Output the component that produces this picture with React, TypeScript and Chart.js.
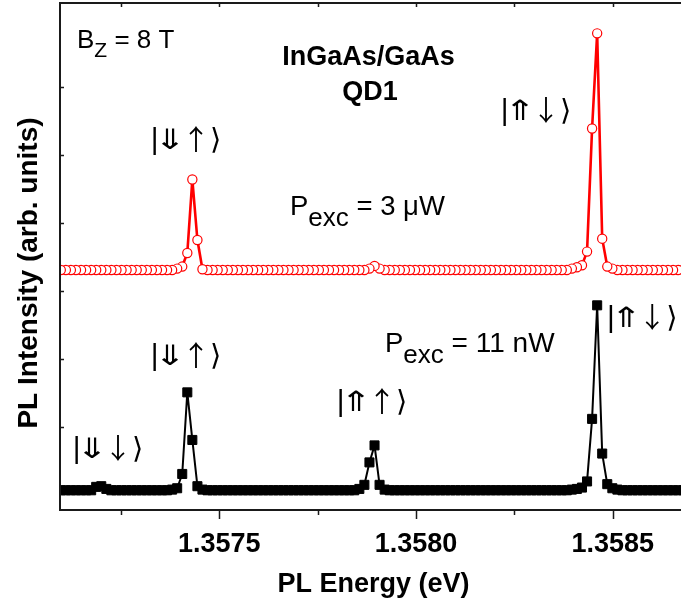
import { useEffect, useRef } from 'react';
import { Chart, registerables } from 'chart.js';

Chart.register(...registerables);

// Photon energy of each spectrometer channel (eV)
const energyEV = [
  1.3570842, 1.3570971, 1.35711, 1.3571228, 1.3571357, 1.3571486, 1.3571614, 1.3571743, 1.3571871, 1.3572,
  1.3572129, 1.3572257, 1.3572386, 1.3572515, 1.3572643, 1.3572772, 1.35729, 1.3573029, 1.3573158, 1.3573286,
  1.3573415, 1.3573544, 1.3573672, 1.3573801, 1.3573929, 1.3574058, 1.3574187, 1.3574315, 1.3574444, 1.3574572,
  1.3574701, 1.357483, 1.3574958, 1.3575087, 1.3575216, 1.3575344, 1.3575473, 1.3575601, 1.357573, 1.3575859,
  1.3575987, 1.3576116, 1.3576245, 1.3576373, 1.3576502, 1.357663, 1.3576759, 1.3576888, 1.3577016, 1.3577145,
  1.3577273, 1.3577402, 1.3577531, 1.3577659, 1.3577788, 1.3577917, 1.3578045, 1.3578174, 1.3578302, 1.3578431,
  1.357856, 1.3578688, 1.3578817, 1.3578946, 1.3579074, 1.3579203, 1.3579331, 1.357946, 1.3579589, 1.3579717,
  1.3579846, 1.3579975, 1.3580103, 1.3580232, 1.358036, 1.3580489, 1.3580618, 1.3580746, 1.3580875, 1.3581003,
  1.3581132, 1.3581261, 1.3581389, 1.3581518, 1.3581647, 1.3581775, 1.3581904, 1.3582032, 1.3582161, 1.358229,
  1.3582418, 1.3582547, 1.3582676, 1.3582804, 1.3582933, 1.3583061, 1.358319, 1.3583319, 1.3583447, 1.3583576,
  1.3583704, 1.3583833, 1.3583962, 1.358409, 1.3584219, 1.3584348, 1.3584476, 1.3584605, 1.3584733, 1.3584862,
  1.3584991, 1.3585119, 1.3585248, 1.3585377, 1.3585505, 1.3585634, 1.3585762, 1.3585891, 1.358602, 1.3586148,
  1.3586277, 1.3586406, 1.3586534, 1.3586663, 1.3586791,
];

// PL intensity at P_exc = 3 µW (offset trace, arb. units)
const pl3uW = [
  3.31, 3.31, 3.31, 3.31, 3.31, 3.31, 3.31, 3.31, 3.31, 3.31,
  3.31, 3.31, 3.31, 3.31, 3.31, 3.31, 3.31, 3.31, 3.31, 3.31,
  3.31, 3.31, 3.31, 3.31, 3.33, 3.36, 3.56, 4.64, 3.75, 3.32,
  3.31, 3.31, 3.31, 3.31, 3.31, 3.31, 3.31, 3.31, 3.31, 3.31,
  3.31, 3.31, 3.31, 3.31, 3.31, 3.31, 3.31, 3.31, 3.31, 3.31,
  3.31, 3.31, 3.31, 3.31, 3.31, 3.31, 3.31, 3.31, 3.31, 3.31,
  3.31, 3.31, 3.33, 3.37, 3.33, 3.31, 3.31, 3.31, 3.31, 3.31,
  3.31, 3.31, 3.31, 3.31, 3.31, 3.31, 3.31, 3.31, 3.31, 3.31,
  3.31, 3.31, 3.31, 3.31, 3.31, 3.31, 3.31, 3.31, 3.31, 3.31,
  3.31, 3.31, 3.31, 3.31, 3.31, 3.31, 3.31, 3.31, 3.31, 3.31,
  3.31, 3.31, 3.33, 3.35, 3.38, 3.58, 5.39, 6.79, 3.77, 3.36,
  3.33, 3.31, 3.31, 3.31, 3.31, 3.31, 3.31, 3.31, 3.31, 3.31,
  3.31, 3.31, 3.31, 3.31, 3.31,
];

// PL intensity at P_exc = 11 nW (arb. units)
const pl11nW = [
  0.07, 0.07, 0.07, 0.07, 0.07, 0.07, 0.07, 0.07, 0.12, 0.13,
  0.09, 0.07, 0.07, 0.07, 0.07, 0.07, 0.07, 0.07, 0.07, 0.07,
  0.07, 0.07, 0.07, 0.08, 0.1, 0.31, 1.51, 0.81, 0.13, 0.08,
  0.07, 0.07, 0.07, 0.07, 0.07, 0.07, 0.07, 0.07, 0.07, 0.07,
  0.07, 0.07, 0.07, 0.07, 0.07, 0.07, 0.07, 0.07, 0.07, 0.07,
  0.07, 0.07, 0.07, 0.07, 0.07, 0.07, 0.07, 0.07, 0.07, 0.07,
  0.09, 0.15, 0.48, 0.73, 0.15, 0.08, 0.07, 0.07, 0.07, 0.07,
  0.07, 0.07, 0.07, 0.07, 0.07, 0.07, 0.07, 0.07, 0.07, 0.07,
  0.07, 0.07, 0.07, 0.07, 0.07, 0.07, 0.07, 0.07, 0.07, 0.07,
  0.07, 0.07, 0.07, 0.07, 0.07, 0.07, 0.07, 0.07, 0.07, 0.07,
  0.07, 0.07, 0.08, 0.09, 0.11, 0.2, 1.12, 2.79, 0.61, 0.16,
  0.1, 0.08, 0.07, 0.07, 0.07, 0.07, 0.07, 0.07, 0.07, 0.07,
  0.07, 0.07, 0.07, 0.07, 0.07,
];

const xMajorTicks = [1.3575, 1.358, 1.3585];
const xMinorTicks = [1.35725, 1.35775, 1.35825];
const yTicks = [1, 2, 3, 4, 5, 6];

const X_MIN = 1.3570951;
const X_MAX = 1.3586736;
const Y_MIN = -0.22;
const Y_MAX = 7.236;

const SANS = "Arial, 'Liberation Sans', 'DejaVu Sans', sans-serif";
const ARROWS = "'Noto Sans CJK JP', 'DejaVu Sans', sans-serif";
const SYM = "'DejaVu Sans', sans-serif";
const AXIS_COLOR = '#1a1a1a';

type Run = { t: string; size: number; dy: number; bold?: boolean; family?: string; sx?: number };
type Note = { x: number; y: number; align: 'left' | 'center'; runs: Run[] };

// Ket |hole spin, electron spin⟩ drawn glyph by glyph
const ket = (hole: string, electron: string): Run[] => [
  { t: '|', size: 30, dy: 0, family: SANS },
  { t: hole, size: 28, dy: 0, family: ARROWS, sx: 1.35 },
  { t: electron, size: 28, dy: 1, family: ARROWS },
  { t: '⟩', size: 29, dy: 0, family: SYM },
];

// Text placed in data coordinates (energy, intensity); y is the text baseline
const notes: Note[] = [
  { x: 1.3571383, y: 6.574, align: 'left', runs: [
    { t: 'B', size: 26, dy: 0 }, { t: 'Z', size: 21, dy: 9 }, { t: ' = 8 T', size: 26, dy: 0 }] },
  { x: 1.3578793, y: 6.324, align: 'center', runs: [{ t: 'InGaAs/GaAs', size: 27, dy: 0, bold: true }] },
  { x: 1.3578831, y: 5.809, align: 'center', runs: [{ t: 'QD1', size: 27, dy: 0, bold: true }] },
  { x: 1.3576797, y: 4.118, align: 'left', runs: [
    { t: 'P', size: 27.5, dy: 0 }, { t: 'exc', size: 26, dy: 11 }, { t: ' = 3 μW', size: 27.5, dy: 0 }] },
  { x: 1.3579212, y: 2.104, align: 'left', runs: [
    { t: 'P', size: 27.5, dy: 0 }, { t: 'exc', size: 26, dy: 11 }, { t: ' = 11 nW', size: 28, dy: 0 }] },
  { x: 1.3574154, y: 5.089, align: 'center', runs: ket('⇓', '↑') },
  { x: 1.358305, y: 5.515, align: 'center', runs: ket('⇑', '↓') },
  { x: 1.3574154, y: 1.912, align: 'center', runs: ket('⇓', '↑') },
  { x: 1.3572171, y: 0.545, align: 'center', runs: ket('⇓', '↓') },
  { x: 1.3578882, y: 1.236, align: 'center', runs: ket('⇑', '↑') },
  { x: 1.3584855, y: 2.471, align: 'left', runs: ket('⇑', '↓') },
];

const runFont = (r: Run) => `${r.bold ? 'bold ' : ''}${r.size}px ${r.family ?? SANS}`;

const framePlugin = {
  id: 'frame',
  afterDraw(chart: any) {
    const { ctx, chartArea, scales } = chart;
    const { left, right, top, bottom } = chartArea;
    const x = scales.x;
    const y = scales.y;
    ctx.save();
    ctx.strokeStyle = AXIS_COLOR;
    ctx.lineWidth = 2;
    ctx.beginPath();
    ctx.moveTo(right, top);
    ctx.lineTo(left, top);
    ctx.lineTo(left, bottom);
    ctx.lineTo(right, bottom);
    ctx.stroke();

    ctx.lineWidth = 1.5;
    ctx.beginPath();
    for (const v of xMajorTicks) {
      const px = Math.round(x.getPixelForValue(v)) + 0.5;
      ctx.moveTo(px, bottom);
      ctx.lineTo(px, bottom + 9);
      ctx.moveTo(px, top);
      ctx.lineTo(px, top + 4);
    }
    for (const v of xMinorTicks) {
      const px = Math.round(x.getPixelForValue(v)) + 0.5;
      ctx.moveTo(px, bottom);
      ctx.lineTo(px, bottom + 5);
      ctx.moveTo(px, top);
      ctx.lineTo(px, top + 4);
    }
    for (const v of yTicks) {
      const py = Math.round(y.getPixelForValue(v)) + 0.5;
      ctx.moveTo(left, py);
      ctx.lineTo(left + 4, py);
    }
    ctx.stroke();

    // axis titles
    ctx.fillStyle = '#000';
    ctx.font = `bold 27px ${SANS}`;
    ctx.textAlign = 'center';
    ctx.textBaseline = 'alphabetic';
    ctx.fillText('PL Energy (eV)', (left + right) / 2 + 3, 592);
    ctx.save();
    ctx.translate(37, 273);
    ctx.rotate(-Math.PI / 2);
    ctx.font = `bold 28px ${SANS}`;
    ctx.fillText('PL Intensity (arb. units)', 0, 0);
    ctx.restore();

    // annotations; a horizontally stretched glyph keeps its own advance
    ctx.textAlign = 'center';
    for (const n of notes) {
      let total = 0;
      const widths = n.runs.map((r) => {
        ctx.font = runFont(r);
        const w = ctx.measureText(r.t).width;
        total += w;
        return w;
      });
      let cx = x.getPixelForValue(n.x);
      const by = y.getPixelForValue(n.y);
      if (n.align === 'center') cx -= total / 2;
      n.runs.forEach((r, i) => {
        ctx.font = runFont(r);
        ctx.save();
        ctx.translate(cx + widths[i] / 2, by + r.dy);
        ctx.scale(r.sx ?? 1, 1);
        ctx.fillText(r.t, 0, 0);
        ctx.restore();
        cx += widths[i];
      });
    }
    ctx.restore();
  },
};

export default function App() {
  const canvasRef = useRef<HTMLCanvasElement | null>(null);

  useEffect(() => {
    const canvas = canvasRef.current;
    if (!canvas) return;
    // later points are drawn on top, so the trace is drawn from high to low energy
    const series = (vals: number[]) =>
      energyEV.map((e, i) => ({ x: e, y: vals[i] })).reverse();

    const chart = new Chart(canvas, {
      type: 'line',
      data: {
        datasets: [
          {
            label: 'P_exc = 3 μW',
            data: series(pl3uW),
            borderColor: '#ff0000',
            borderWidth: 2.6,
            pointStyle: 'circle',
            pointRadius: 4.6,
            pointBorderWidth: 1.2,
            pointBorderColor: '#ff0000',
            pointBackgroundColor: '#ffffff',
            tension: 0,
            clip: 0,
          },
          {
            label: 'P_exc = 11 nW',
            data: series(pl11nW),
            borderColor: '#000000',
            borderWidth: 2,
            pointStyle: 'rect',
            pointRadius: 6.4,
            pointBorderWidth: 1,
            pointBorderColor: '#000000',
            pointBackgroundColor: '#000000',
            tension: 0,
            clip: 0,
          },
        ],
      },
      options: {
        animation: false,
        responsive: false,
        layout: { autoPadding: false, padding: { top: 3, right: 0, left: 0, bottom: 0 } },
        plugins: { legend: { display: false }, tooltip: { enabled: false } },
        scales: {
          x: {
            type: 'linear',
            min: X_MIN,
            max: X_MAX,
            afterBuildTicks: (s: any) => {
              s.ticks = xMajorTicks.map((v) => ({ value: v }));
            },
            afterFit: (s: any) => {
              s.height = 95;
              s.paddingLeft = 0;
              s.paddingRight = 0;
            },
            grid: { display: false, drawTicks: false },
            border: { display: false },
            ticks: {
              autoSkip: false,
              maxRotation: 0,
              padding: 18,
              color: '#000',
              font: { family: SANS, size: 27, weight: 'bold' },
              callback: (v: any) => Number(v).toFixed(4),
            },
          },
          y: {
            min: Y_MIN,
            max: Y_MAX,
            afterBuildTicks: (s: any) => {
              s.ticks = yTicks.map((v) => ({ value: v }));
            },
            afterFit: (s: any) => {
              s.width = 60;
            },
            grid: { display: false, drawTicks: false },
            border: { display: false },
            ticks: { display: false },
          },
        },
      },
      plugins: [framePlugin],
    });
    return () => chart.destroy();
  }, []);

  return (
    <div style={{ position: 'absolute', left: 0, top: 0, width: 681, height: 605, background: '#fff' }}>
      <canvas ref={canvasRef} width={681} height={605} style={{ display: 'block' }} />
    </div>
  );
}
